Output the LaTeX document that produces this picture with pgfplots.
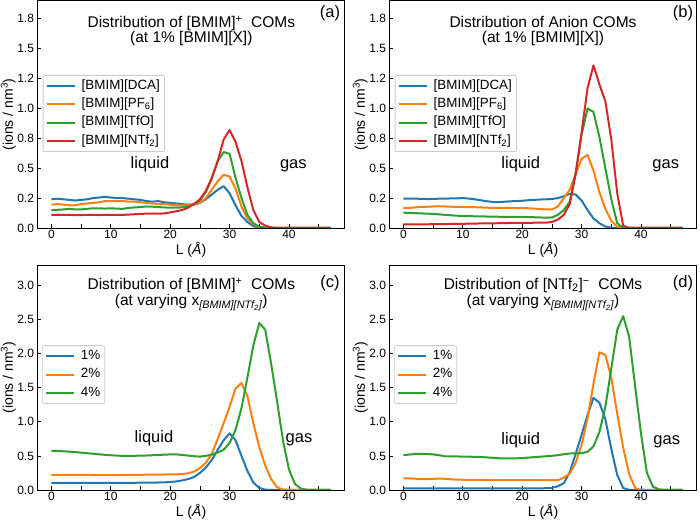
\documentclass[border=0pt]{standalone}
\usepackage{fontspec}
\setmainfont{Liberation Sans}
\usepackage{pgfplots}
\usepackage{pgfplotstable}
\pgfplotsset{compat=1.18}

\definecolor{tabblue}{HTML}{1F77B4}
\definecolor{taborange}{HTML}{FF7F0E}
\definecolor{tabgreen}{HTML}{2CA02C}
\definecolor{tabred}{HTML}{D62728}

% Panel (a): [BMIM]+ COMs at 1%
\pgfplotstableread{
x dca pf tfo ntf
0 0.240 0.195 0.150 0.110
1 0.245 0.200 0.152 0.110
2 0.240 0.195 0.155 0.110
3 0.235 0.190 0.160 0.110
4 0.230 0.190 0.155 0.108
5 0.235 0.200 0.155 0.108
6 0.240 0.205 0.160 0.110
7 0.250 0.210 0.165 0.110
8 0.255 0.215 0.165 0.108
9 0.260 0.225 0.162 0.110
10 0.255 0.225 0.165 0.110
11 0.250 0.225 0.162 0.110
12 0.250 0.225 0.160 0.110
13 0.245 0.220 0.168 0.112
14 0.240 0.220 0.172 0.115
15 0.235 0.215 0.175 0.118
16 0.225 0.210 0.180 0.120
17 0.220 0.205 0.178 0.120
18 0.225 0.200 0.175 0.120
19 0.215 0.200 0.172 0.122
20 0.210 0.195 0.170 0.130
21 0.205 0.190 0.170 0.140
22 0.200 0.190 0.172 0.150
23 0.195 0.195 0.180 0.170
24 0.195 0.200 0.200 0.200
25 0.210 0.210 0.230 0.240
26 0.240 0.250 0.300 0.310
27 0.280 0.320 0.410 0.420
28 0.320 0.390 0.560 0.560
29 0.350 0.445 0.635 0.740
30 0.290 0.430 0.620 0.820
31 0.190 0.330 0.420 0.720
32 0.100 0.180 0.250 0.560
33 0.050 0.080 0.110 0.340
34 0.015 0.030 0.040 0.150
35 0.003 0.008 0.010 0.050
36 0 0.002 0.003 0.020
37 0 0 0 0.005
38 0 0 0 0
39 0 0 0 0
40 0 0 0 0
41 0 0 0 0
42 0 0 0 0
43 0 0 0 0
44 0 0 0 0
45 0 0 0 0
46 0 0 0 0
47 0 0 0 0
}\tabA

% Panel (b): anion COMs at 1%
\pgfplotstableread{
x dca pf tfo ntf
0 0.245 0.167 0.128 0.031
1 0.245 0.168 0.126 0.031
2 0.245 0.172 0.124 0.030
3 0.244 0.176 0.122 0.030
4 0.242 0.178 0.120 0.031
5 0.243 0.180 0.118 0.032
6 0.245 0.182 0.114 0.032
7 0.246 0.180 0.110 0.033
8 0.247 0.178 0.106 0.034
9 0.248 0.177 0.103 0.035
10 0.250 0.176 0.100 0.035
11 0.246 0.175 0.099 0.036
12 0.240 0.174 0.098 0.037
13 0.232 0.172 0.097 0.038
14 0.224 0.170 0.096 0.038
15 0.218 0.168 0.095 0.039
16 0.216 0.167 0.094 0.040
17 0.220 0.168 0.093 0.041
18 0.223 0.168 0.093 0.042
19 0.225 0.167 0.092 0.042
20 0.228 0.167 0.092 0.042
21 0.232 0.165 0.091 0.043
22 0.235 0.162 0.090 0.044
23 0.238 0.158 0.088 0.044
24 0.240 0.155 0.087 0.045
25 0.242 0.155 0.088 0.050
26 0.250 0.180 0.110 0.070
27 0.265 0.250 0.150 0.110
28 0.285 0.320 0.220 0.200
29 0.280 0.450 0.460 0.450
30 0.230 0.580 0.780 0.800
31 0.150 0.610 1.000 1.170
32 0.080 0.480 0.970 1.360
33 0.040 0.300 0.760 1.200
34 0.012 0.160 0.500 1.060
35 0.002 0.060 0.240 0.740
36 0 0.010 0.040 0.290
37 0 0 0 0.020
38 0 0 0 0
39 0 0 0 0
40 0 0 0 0
41 0 0 0 0
42 0 0 0 0
43 0 0 0 0
44 0 0 0 0
45 0 0 0 0
46 0 0 0 0
47 0 0 0 0
}\tabB

% Panel (c): [BMIM]+ COMs at varying x
\pgfplotstableread{
x p1 p2 p4
0 0.105 0.220 0.575
1 0.105 0.220 0.572
2 0.104 0.221 0.568
3 0.104 0.222 0.563
4 0.104 0.222 0.556
5 0.104 0.222 0.548
6 0.103 0.221 0.540
7 0.103 0.220 0.532
8 0.103 0.219 0.524
9 0.104 0.218 0.516
10 0.104 0.218 0.510
11 0.105 0.219 0.505
12 0.105 0.220 0.500
13 0.105 0.221 0.500
14 0.106 0.222 0.502
15 0.107 0.223 0.503
16 0.108 0.224 0.506
17 0.109 0.225 0.510
18 0.110 0.226 0.514
19 0.112 0.227 0.518
20 0.118 0.228 0.522
21 0.125 0.230 0.522
22 0.140 0.235 0.515
23 0.160 0.245 0.505
24 0.190 0.270 0.495
25 0.250 0.320 0.490
26 0.330 0.400 0.500
27 0.440 0.530 0.520
28 0.590 0.750 0.550
29 0.730 0.980 0.590
30 0.830 1.220 0.690
31 0.730 1.490 0.880
32 0.500 1.570 1.200
33 0.280 1.380 1.650
34 0.110 0.980 2.120
35 0.030 0.630 2.450
36 0.005 0.360 2.350
37 0 0.160 1.850
38 0 0.040 1.300
39 0 0.008 0.720
40 0 0 0.300
41 0 0 0.090
42 0 0 0.020
43 0 0 0.003
44 0 0 0
45 0 0 0
46 0 0 0
47 0 0 0
}\tabC

% Panel (d): [NTf2]- COMs at varying x
\pgfplotstableread{
x p1 p2 p4
0 0.025 0.170 0.510
1 0.025 0.170 0.520
2 0.025 0.166 0.528
3 0.025 0.160 0.530
4 0.025 0.160 0.528
5 0.025 0.164 0.522
6 0.025 0.168 0.510
7 0.025 0.164 0.495
8 0.025 0.156 0.494
9 0.025 0.152 0.492
10 0.025 0.150 0.490
11 0.025 0.150 0.488
12 0.025 0.150 0.487
13 0.025 0.148 0.484
14 0.025 0.146 0.478
15 0.025 0.145 0.472
16 0.025 0.145 0.466
17 0.025 0.145 0.462
18 0.025 0.145 0.462
19 0.025 0.146 0.465
20 0.025 0.146 0.468
21 0.025 0.146 0.475
22 0.025 0.145 0.482
23 0.025 0.145 0.488
24 0.026 0.144 0.495
25 0.030 0.143 0.502
26 0.055 0.145 0.510
27 0.100 0.180 0.525
28 0.260 0.240 0.535
29 0.530 0.400 0.538
30 0.810 0.660 0.540
31 1.100 1.050 0.560
32 1.350 1.560 0.640
33 1.280 2.020 0.850
34 1.040 1.980 1.220
35 0.600 1.650 1.780
36 0.220 1.120 2.350
37 0.030 0.620 2.550
38 0 0.240 2.250
39 0 0.030 1.530
40 0 0 0.830
41 0 0 0.250
42 0 0 0.050
43 0 0 0.010
44 0 0 0
45 0 0 0
46 0 0 0
47 0 0 0
}\tabD

\pgfplotsset{
  myleg/.style={legend image code/.code={\draw[##1, line width=2pt] (0pt,0pt) -- (28pt,0pt);}},
  panel/.style={
    scale only axis,
    width=307pt,
    xmin=-2.35, xmax=49.35, ymin=0,
    xtick={0,10,20,30,40},
    minor xtick={5,15,25,35,45},
    tick align=inside,
    tick pos=left,
    major tick length=3.5pt,
    minor tick length=3.5pt,
    every tick/.style={black, line width=0.8pt},
    axis line style={line width=0.8pt},
    tick label style={font=\fontsize{12}{14}\selectfont},
    xticklabel style={yshift=1.5pt},
    /pgf/number format/assume math mode=true,
    xlabel={L (\textit{Å})},
    ylabel={(ions / nm\textsuperscript{3})},
    label style={font=\fontsize{14}{16}\selectfont},
    xlabel style={at={(axis description cs:0.5,0)}, anchor=base, yshift=-26.8pt},
    ylabel style={at={(axis description cs:-0.08,0.5)}, anchor=base},
    legend cell align=left,
    legend style={anchor=west, draw=black!20, line width=0.8pt, rounded corners=2pt,
      fill=white, fill opacity=0.8, text opacity=1,
      font=\fontsize{13.4}{16}\selectfont,
      inner xsep=2.6pt, inner ysep=2pt, column sep=4pt, row sep=1pt,
      nodes={inner sep=2pt, text height=10pt, text depth=3.3pt}},
    every axis plot/.append style={line width=2pt, line join=round, no marks},
  },
  toprow/.style={height=227.2pt, ymax=1.9,
    ytick={0,0.25,0.5,0.75,1,1.25,1.5,1.75},
    yticklabels={0.0,0.2,0.5,0.8,1.0,1.2,1.5,1.8},
    legend style={at={(0.017,0.504)}}},
  botrow/.style={height=225pt, ymax=3.3,
    ytick={0,0.5,1,1.5,2,2.5,3},
    yticklabels={0.0,0.5,1.0,1.5,2.0,2.5,3.0},
    legend style={at={(0.014,0.513)}}},
}

\newcommand{\ttlfont}{\fontsize{15.5}{18}\selectfont}
\newcommand{\annfont}{\fontsize{16.5}{19}\selectfont}

\begin{document}
\begin{tikzpicture}[x=1pt,y=1pt]
\path[use as bounding box] (0,0) rectangle (700,521);

% (a)
\begin{axis}[panel, toprow, myleg, at={(37.5pt,293pt)}, anchor=south west]
\addplot[tabblue] table[x=x,y=dca] {\tabA};
\addlegendentry{[BMIM][DCA]}
\addplot[taborange] table[x=x,y=pf] {\tabA};
\addlegendentry{[BMIM][PF\textsubscript{6}]}
\addplot[tabgreen] table[x=x,y=tfo] {\tabA};
\addlegendentry{[BMIM][TfO]}
\addplot[tabred] table[x=x,y=ntf] {\tabA};
\addlegendentry{[BMIM][NTf\textsubscript{2}]}
\end{axis}

% (b)
\begin{axis}[panel, toprow, myleg, at={(389.5pt,293pt)}, anchor=south west]
\addplot[tabblue] table[x=x,y=dca] {\tabB};
\addlegendentry{[BMIM][DCA]}
\addplot[taborange] table[x=x,y=pf] {\tabB};
\addlegendentry{[BMIM][PF\textsubscript{6}]}
\addplot[tabgreen] table[x=x,y=tfo] {\tabB};
\addlegendentry{[BMIM][TfO]}
\addplot[tabred] table[x=x,y=ntf] {\tabB};
\addlegendentry{[BMIM][NTf\textsubscript{2}]}
\end{axis}

% (c)
\begin{axis}[panel, botrow, myleg, at={(37.5pt,31pt)}, anchor=south west]
\addplot[tabblue] table[x=x,y=p1] {\tabC};
\addlegendentry{1\%}
\addplot[taborange] table[x=x,y=p2] {\tabC};
\addlegendentry{2\%}
\addplot[tabgreen] table[x=x,y=p4] {\tabC};
\addlegendentry{4\%}
\end{axis}

% (d)
\begin{axis}[panel, botrow, myleg, at={(389.5pt,31pt)}, anchor=south west]
\addplot[tabblue] table[x=x,y=p1] {\tabD};
\addlegendentry{1\%}
\addplot[taborange] table[x=x,y=p2] {\tabD};
\addlegendentry{2\%}
\addplot[tabgreen] table[x=x,y=p4] {\tabD};
\addlegendentry{4\%}
\end{axis}

% titles and annotations
\node[anchor=base, font=\ttlfont] at (191.3,493.7) {Distribution of [BMIM]\textsuperscript{+}\hspace{0.55em}COMs};
\node[anchor=base, font=\ttlfont] at (191.3,478.7) {(at 1\% [BMIM][X])};
\node[anchor=base, font=\ttlfont] at (543,493.7) {Distribution of Anion COMs};
\node[anchor=base, font=\ttlfont] at (543,478.7) {(at 1\% [BMIM][X])};
\node[anchor=base, font=\ttlfont] at (191.3,231.7) {Distribution of [BMIM]\textsuperscript{+}\hspace{0.55em}COMs};
\node[anchor=base, font=\ttlfont] at (191.3,215) {(at varying x\textsubscript{\itshape [BMIM][NTf\textsubscript{2}]})};
\node[anchor=base, font=\ttlfont] at (543,231.7) {Distribution of [NTf\textsubscript{2}]\textsuperscript{−}\hspace{0.55em}COMs};
\node[anchor=base, font=\ttlfont] at (543,215) {(at varying x\textsubscript{\itshape [BMIM][NTf\textsubscript{2}]})};

\node[anchor=base, font=\annfont] at (330,503.7) {(a)};
\node[anchor=base, font=\annfont] at (683,503.7) {(b)};
\node[anchor=base, font=\annfont] at (330,233.7) {(c)};
\node[anchor=base, font=\annfont] at (683,233.5) {(d)};

\node[anchor=base, font=\annfont] at (150,352.7) {liquid};
\node[anchor=base, font=\annfont] at (293.3,352.7) {gas};
\node[anchor=base, font=\annfont] at (520.7,352.7) {liquid};
\node[anchor=base, font=\annfont] at (665.7,352.7) {gas};
\node[anchor=base, font=\annfont] at (154,78) {liquid};
\node[anchor=base, font=\annfont] at (299,78) {gas};
\node[anchor=base, font=\annfont] at (520.7,76) {liquid};
\node[anchor=base, font=\annfont] at (666.7,76) {gas};
\end{tikzpicture}
\end{document}
